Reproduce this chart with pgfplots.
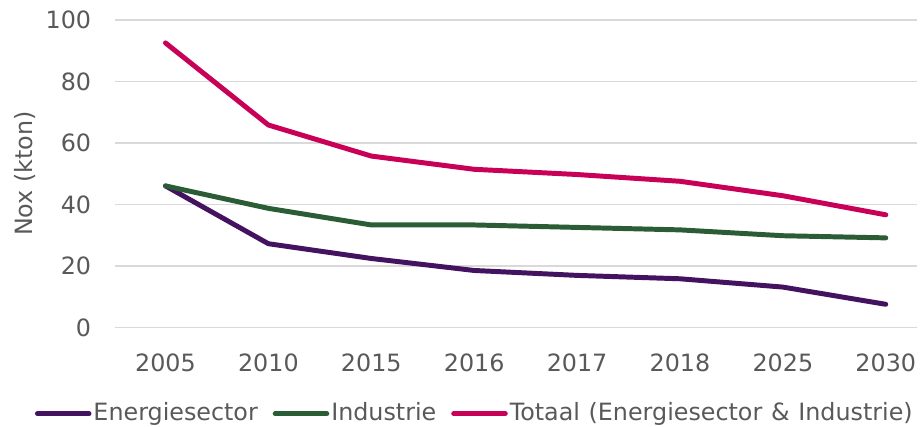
\documentclass[border=0pt]{standalone}
\usepackage{pgfplots}
\pgfplotsset{compat=1.18}
\usepackage{fontspec}
\setmainfont{DejaVu Sans}
\newfontfamily\legfont[WordSpace=1.15]{DejaVu Sans}
\definecolor{cpurple}{HTML}{44135F}
\definecolor{cgreen}{HTML}{2A5C36}
\definecolor{cmag}{HTML}{C80058}
\definecolor{ctext}{HTML}{595959}
\definecolor{cgrid}{HTML}{D9D9D9}
\begin{document}
\fontsize{24}{28}\selectfont
\begin{tikzpicture}
\begin{axis}[
  scale only axis,
  width=808pt, height=310pt,
  xmin=-0.49, xmax=7.30,
  ymin=0, ymax=100,
  xtick={0,...,7},
  xticklabels={2005,2010,2015,2016,2017,2018,2025,2030},
  ytick={0,20,...,100},
  ymajorgrids,
  grid style={cgrid, line width=1.5pt},
  axis line style={draw=none},
  major tick length=0pt,
  tick label style={font=\fontsize{24}{28}\selectfont, text=ctext},
  /pgf/number format/assume math mode=true,
  xticklabel style={yshift=-18pt},
  yticklabel style={xshift=-16pt},
  ylabel={Nox (kton)},
  ylabel style={at={(axis description cs:-0.1126,0.5)}, anchor=center, font=\fontsize{24}{28}\selectfont, text=ctext},
  clip=false,
  legend columns=-1,
  legend style={at={(rel axis cs:-0.1002,-0.2806)}, anchor=west, draw=none, fill=none,
    font=\legfont\fontsize{24}{28}\selectfont, text=ctext, inner sep=0pt,
    nodes={inner sep=2pt},
    /tikz/every even column/.append style={column sep=13pt}},
  legend image code/.code={\draw[#1, line width=5pt, line cap=round] (0pt,0pt) -- (52pt,0pt);},
  every axis plot/.append style={line width=5pt, line join=round, line cap=round, mark=none},
]
\addplot[cpurple] coordinates {(0,46.0) (1,27.2) (2,22.4) (3,18.5) (4,16.9) (5,15.8) (6,13.1) (7,7.5)};
\addlegendentry{Energiesector}
\addplot[cgreen] coordinates {(0,46.0) (1,38.7) (2,33.3) (3,33.3) (4,32.5) (5,31.7) (6,29.8) (7,29.1)};
\addlegendentry{Industrie}
\addplot[cmag] coordinates {(0,92.5) (1,65.8) (2,55.7) (3,51.4) (4,49.7) (5,47.5) (6,42.8) (7,36.6)};
\addlegendentry{Totaal (Energiesector \& Industrie)}
\end{axis}
\path[use as bounding box] (-116pt,-99pt) rectangle (808pt,330pt);
\end{tikzpicture}
\end{document}
